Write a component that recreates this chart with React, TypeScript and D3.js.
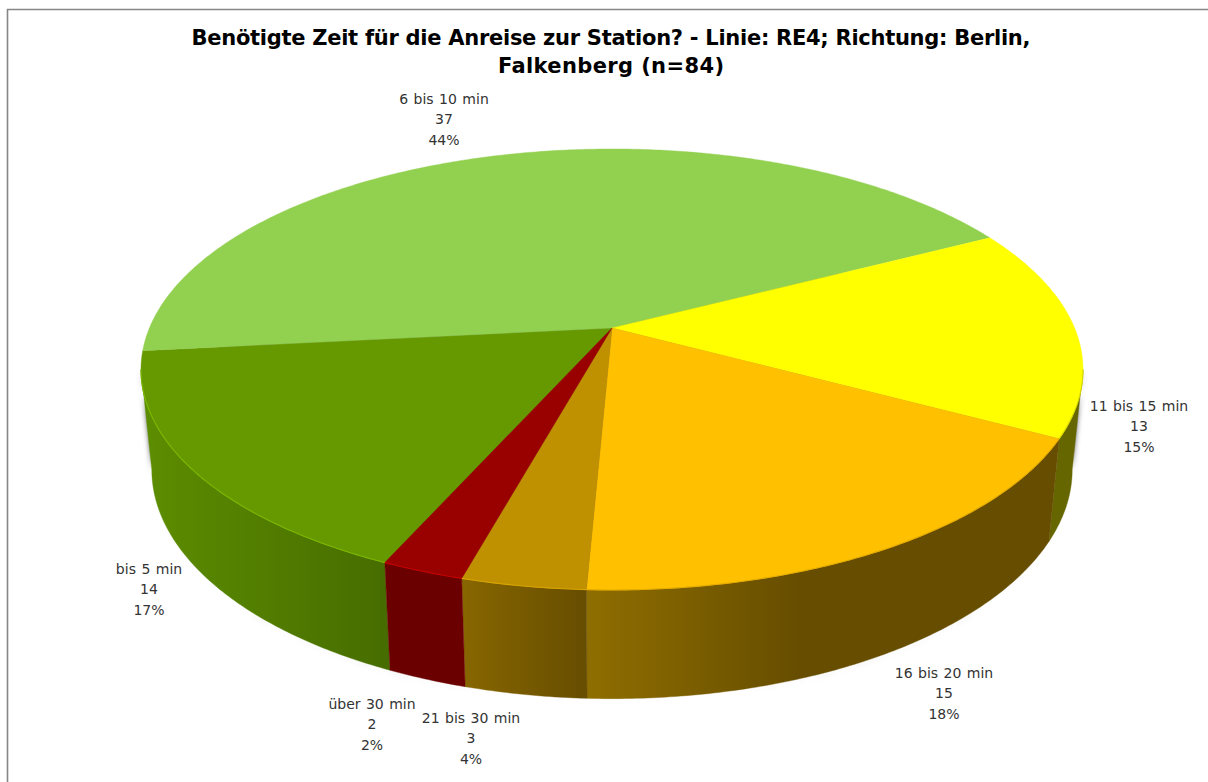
import React from "react";
import * as d3 from "d3";

const categories = ["bis 5 min", "6 bis 10 min", "11 bis 15 min", "16 bis 20 min", "21 bis 30 min", "über 30 min"];
const counts = [14, 37, 13, 15, 3, 2];
const titleLines = ["Benötigte Zeit für die Anreise zur Station? - Linie: RE4; Richtung: Berlin,", "Falkenberg (n=84)"];

const topColors = ["#669900", "#92d050", "#ffff00", "#ffc000", "#bf9000", "#990000"];
const edgeColors = ["#7cb800", "#92d050", "#d8d800", "#e6ad00", "#d9a400", "#c40000"];
const sideFrom = ["#5c8c00", "#5c8c00", "#666600", "#8f6e00", "#876600", "#6b0000"];
const sideTo = ["#466c00", "#466c00", "#666600", "#664d00", "#664d00", "#6b0000"];
const gradX = [[150, 392], [140, 400], [1000, 1090], [587, 800], [465, 587], [392, 468]];
const labelAnchor = [[149, 574], [444, 104], [1139, 411], [944, 678], [471, 723], [372, 709]];
const titleWidths = [839, 226];

const W = 1208, H = 782;
const K = -0.188;
const apex = { x: 612, y: 328 };
const topScale = { a: 462.6, b: 212.7, y0: 328 };
const botScale = { a: 452, b: 221, y0: 426.5 };

const pieGen = d3.pie<number>().sort(null).startAngle((204 * Math.PI) / 180).endAngle((564 * Math.PI) / 180);
const arcs = pieGen(counts);
const total = d3.sum(counts);
const pct = d3.format(".0%");

// Silhouette angles: where the projected rim turns back; only this front part of the wall is seen.
const tangent = Math.asin(-K);
const frontStart = Math.PI / 2 + tangent; // right flank, clockwise from 12 o'clock
const frontEnd = (3 * Math.PI) / 2 - tangent; // left flank

function project(angle: number, s: { a: number; b: number; y0: number }): [number, number] {
  const u = Math.sin(angle), v = -Math.cos(angle);
  const w = 1 + K * v;
  return [apex.x + (s.a * u) / w, s.y0 + (s.b * v) / w];
}
function arcPoints(a0: number, a1: number, s: typeof topScale): [number, number][] {
  const n = Math.max(4, Math.ceil(Math.abs(a1 - a0) / 0.01));
  return d3.range(n + 1).map((i) => project(a0 + ((a1 - a0) * i) / n, s));
}
function frontRange(a0: number, a1: number): [number, number] | null {
  const tau = 2 * Math.PI;
  for (const shift of [0, tau, -tau]) {
    const s = Math.max(a0 - shift, frontStart);
    const e = Math.min(a1 - shift, frontEnd);
    if (e > s) return [s, e];
  }
  return null;
}
const line = d3.line();
const fullBottom = line(arcPoints(0, 2 * Math.PI, botScale)) + "Z";
const fullWall =
  line([...arcPoints(frontStart, frontEnd, topScale), ...arcPoints(frontStart, frontEnd, botScale).reverse()]) + "Z";

export default function App() {
  return (
    <svg width={W} height={H} viewBox={`0 0 ${W} ${H}`} style={{ position: "absolute", left: 0, top: 0, background: "#fff" }}>
      <defs>
        <filter id="soft" x="-5%" y="-5%" width="110%" height="110%">
          <feGaussianBlur stdDeviation="2.6" />
        </filter>
        {arcs.map((d, i) => (
          <linearGradient key={i} id={`side${i}`} gradientUnits="userSpaceOnUse" x1={gradX[i][0]} x2={gradX[i][1]} y1={0} y2={0}>
            <stop offset="0" stopColor={sideFrom[i]} />
            <stop offset="1" stopColor={sideTo[i]} />
          </linearGradient>
        ))}
      </defs>
      <path d="M1208,9.5H7.5V782" fill="none" stroke="#868686" strokeWidth={1.6} />
      <g filter="url(#soft)" transform="translate(0,2)" fill="#555" fillOpacity={0.85}>
        <path d={fullBottom + fullWall} fillRule="nonzero" />
      </g>
      {arcs.map((d, i) => {
        const r = frontRange(d.startAngle, d.endAngle);
        if (!r) return null;
        const t = arcPoints(r[0], r[1], topScale);
        const b = arcPoints(r[0], r[1], botScale).reverse();
        return <path key={i} d={line([...t, ...b]) + "Z"} fill={`url(#side${i})`} stroke={`url(#side${i})`} strokeWidth={0.4} />;
      })}
      {arcs.map((d, i) => {
        const t = arcPoints(d.startAngle, d.endAngle, topScale);
        return <path key={i} d={line([[apex.x, apex.y], ...t]) + "Z"} fill={topColors[i]} stroke={topColors[i]} strokeWidth={0.4} />;
      })}
      {arcs.map((d, i) => {
        const r = frontRange(d.startAngle, d.endAngle);
        if (!r) return null;
        return <path key={i} d={line(arcPoints(r[0], r[1], topScale)) ?? ""} fill="none" stroke={edgeColors[i]} strokeWidth={1.1} />;
      })}
      <g fontFamily="'DejaVu Sans', sans-serif" fontWeight={700} fontSize={21} fill="#000" textAnchor="middle">
        {titleLines.map((l, i) => (
          <text key={i} x={611} y={45 + i * 28} textLength={titleWidths[i]} lengthAdjust="spacing">{l}</text>
        ))}
      </g>
      <g fontFamily="'DejaVu Sans', sans-serif" fontSize={14} fill="#333" textAnchor="middle" wordSpacing={1}>
        {categories.map((c, i) => (
          <text key={c} x={labelAnchor[i][0]} y={labelAnchor[i][1]}>
            <tspan x={labelAnchor[i][0]}>{c}</tspan>
            <tspan x={labelAnchor[i][0]} dy={20}>{counts[i]}</tspan>
            <tspan x={labelAnchor[i][0]} dy={21}>{pct(counts[i] / total)}</tspan>
          </text>
        ))}
      </g>
    </svg>
  );
}
